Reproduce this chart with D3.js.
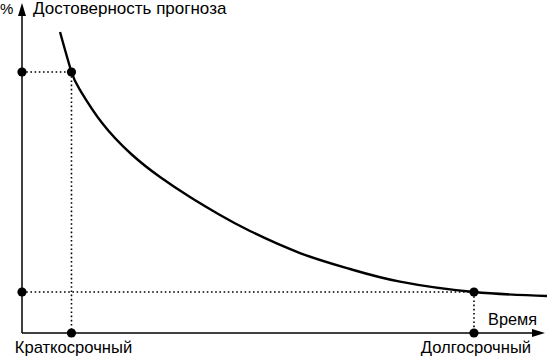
<!DOCTYPE html>
<html><head><meta charset="utf-8">
<script src="https://cdn.jsdelivr.net/npm/d3@7"></script>
<style>body{margin:0;background:#fff}svg{display:block}text{font-family:"Liberation Sans",Arial,sans-serif;fill:#000}</style>
</head><body>
<script>
const curveX = [7.27, 9.46, 11.09, 15.24, 20.98, 26.39, 32.12, 37.86, 43.59, 53.15, 62.72, 72.28, 86.42, 100.38];
const curveY = [91.21, 79.09, 73.64, 63.79, 54.09, 47.27, 41.21, 35.76, 30.91, 24.24, 19.39, 15.55, 12.42, 11.21];
const markX = [9.46, 86.42];
const markY = [79.09, 12.42];
const markLabels = ["Краткосрочный", "Долгосрочный"];
const yTitle = "Достоверность прогноза";
const xTitle = "Время";
const yUnit = "%";

const W = 548, H = 358;
const x = d3.scaleLinear().domain([0, 100]).range([22, 545]);
const y = d3.scaleLinear().domain([0, 100]).range([333, 3]);

const svg = d3.select("body").append("svg").attr("width", W).attr("height", H);

// dotted guides
markX.forEach((mx, i) => {
  const my = markY[i];
  svg.append("line").attr("x1", x(0)).attr("x2", x(mx)).attr("y1", y(my)).attr("y2", y(my))
    .attr("stroke", "#000").attr("stroke-width", 1.6).attr("stroke-dasharray", "1.6,2.6");
  svg.append("line").attr("x1", x(mx)).attr("x2", x(mx)).attr("y1", y(my)).attr("y2", y(0))
    .attr("stroke", "#000").attr("stroke-width", 1.6).attr("stroke-dasharray", "1.6,2.6");
});

// axes
svg.append("line").attr("x1", x(0)).attr("x2", x(0)).attr("y1", y(0)).attr("y2", 12)
  .attr("stroke", "#000").attr("stroke-width", 1.5);
svg.append("line").attr("x1", x(0)).attr("x2", 535).attr("y1", y(0)).attr("y2", y(0))
  .attr("stroke", "#000").attr("stroke-width", 1.5);
svg.append("path").attr("d", `M${x(0)},${y(100)} L${x(0)-4},${y(100)+13} L${x(0)+4},${y(100)+13} Z`).attr("fill", "#000");
svg.append("path").attr("d", `M${x(100)},${y(0)} L${x(100)-13},${y(0)-4} L${x(100)-13},${y(0)+4} Z`).attr("fill", "#000");

// curve
const pts = curveX.map((v, i) => [v, curveY[i]]);
svg.append("path").datum(pts)
  .attr("d", d3.line().x(d => x(d[0])).y(d => y(d[1])).curve(d3.curveNatural))
  .attr("fill", "none").attr("stroke", "#000").attr("stroke-width", 2.4);

// dots
markX.forEach((mx, i) => {
  const my = markY[i];
  [[x(0), y(my)], [x(mx), y(my)], [x(mx), y(0)]].forEach(p => {
    svg.append("circle").attr("cx", p[0]).attr("cy", p[1]).attr("r", 4.6).attr("fill", "#000");
  });
});

// texts
svg.append("text").attr("x", 0).attr("y", 14).attr("font-size", 15).text(yUnit);
svg.append("text").attr("x", 33).attr("y", 14).attr("font-size", 17).text(yTitle);
svg.append("text").attr("x", 537).attr("y", 325).attr("font-size", 16.3).attr("text-anchor", "end").text(xTitle);
svg.append("text").attr("x", x(markX[0]) + 2).attr("y", 353).attr("font-size", 16.6).attr("text-anchor", "middle").text(markLabels[0]);
svg.append("text").attr("x", x(markX[1]) + 2).attr("y", 353).attr("font-size", 16.6).attr("text-anchor", "middle").text(markLabels[1]);
</script>
</body></html>
